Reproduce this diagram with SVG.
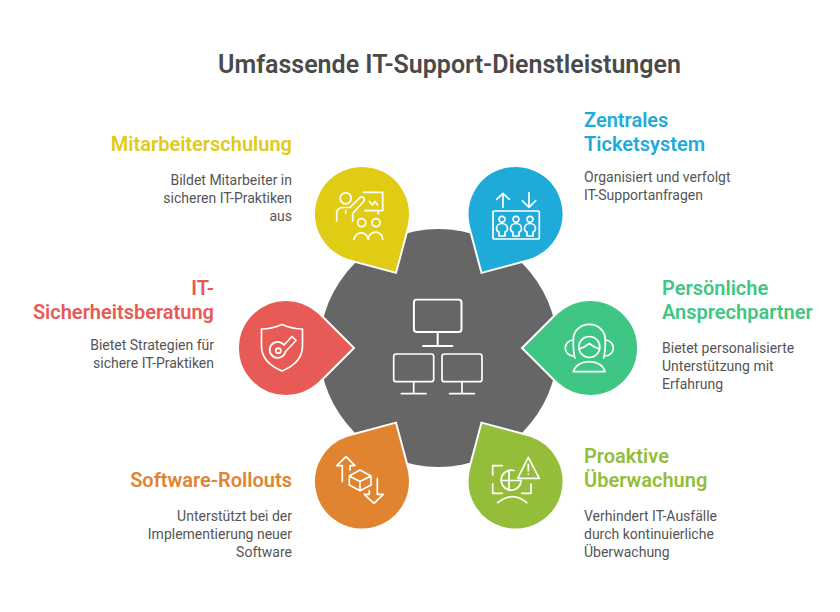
<svg xmlns="http://www.w3.org/2000/svg" xmlns:xlink="http://www.w3.org/1999/xlink" width="840" height="612" viewBox="0 0 840 612">
<style>
text{font-family:Roboto,"Liberation Sans",sans-serif}
.title{font-size:25px;font-weight:600;fill:#4a4a4a}
.h{font-size:20px;font-weight:600}
.b{font-size:14px;fill:#555555}
.e{text-anchor:end}
.ic{fill:none;stroke:#fff;stroke-width:1.7;stroke-linecap:round;stroke-linejoin:round}
.drop{stroke:#fff;stroke-width:2;stroke-linejoin:miter}
</style>
<defs>
<path id="drop" d="M0,-48 C-26.5,-48 -48,-26.5 -48,0 C-48,26.5 -26.5,48 0,48 C13,48 24,43 33,35 L68,0 L33,-35 C24,-43 13,-48 0,-48Z"/>
<g id="mon"><rect x="-20" y="-14" width="40" height="27.7" rx="2.5"/><path d="M0,13.7V25.7M-12.3,25.7H12.3"/></g>
<g id="pers"><circle cx="0" cy="-8.7" r="3"/><path d="M0,-4.5c-3,0 -5.5,2 -5.5,5 0,2 1,3 2.5,3.5V8H3V4c1.500,-.5 2.500,-1.500 2.500,-3.500 0,-3 -2.500,-5 -5.500,-5Z"/></g>
</defs>
<text class="title" x="218" y="73">Umfassende IT-Support-Dienstleistungen</text>
<g id="connectors"></g>
<g id="center">
<circle cx="438.500" cy="348" r="119" fill="#666666"/>
<g class="ic">
<use href="#mon" transform="translate(437.700,316) scale(1.190,1.170)"/>
<use href="#mon" x="413.700" y="368"/>
<use href="#mon" x="462" y="368"/>
</g>
</g>
<g id="n-mitarbeiterschulung">
<use href="#drop" class="drop" fill="#e0cb15" transform="translate(362,214) rotate(60)"/>
<g class="ic">
<circle cx="345.700" cy="198.300" r="5.500"/>
<path d="M336.700,221V213.500Q336.700,207.500 343,207.500H350L360,197.500Q362.500,196 364,198Q365,199.500 363.500,201.500L352.700,213.500V221"/>
<path d="M363.500,192.300H382.700V210.700H365M378.300,210.700V214M345.700,210.700V213.300"/>
<path d="M369.500,201.500L372.500,205L375,201.500L377.500,205"/>
<circle cx="361.700" cy="222.700" r="4"/><circle cx="376" cy="222.700" r="4"/>
<path d="M354,239.300A7.200,7.200 0 0 1 368.300,239.300A7.200,7.200 0 0 1 382.700,239.300"/>
</g>
<text class="h e" x="292" y="151" fill="#e0cb15">Mitarbeiterschulung</text>
<text class="b e" x="292" y="185">Bildet Mitarbeiter in</text>
<text class="b e" x="292" y="203">sicheren IT-Praktiken</text>
<text class="b e" x="292" y="221">aus</text>
</g>
<g id="n-zentrales-ticketsystem">
<use href="#drop" class="drop" fill="#1eabda" transform="translate(515.500,214) rotate(120)"/>
<g class="ic">
<path d="M503,207.300V193.300M496.700,199.300L503,193.300L509.300,199.300"/>
<path d="M529,192.700V207.300M522.300,200.700L529,207.300L535.700,200.700"/>
<rect x="493" y="211" width="46.300" height="28" rx="1"/>
<use href="#pers" x="502" y="228"/><use href="#pers" x="516" y="228"/><use href="#pers" x="530" y="228"/>
</g>
<text class="h" x="584" y="127" fill="#1eabda">Zentrales</text>
<text class="h" x="584" y="151" fill="#1eabda">Ticketsystem</text>
<text class="b" x="584" y="182">Organisiert und verfolgt</text>
<text class="b" x="584" y="200">IT-Supportanfragen</text>
</g>
<g id="n-sicherheitsberatung">
<use href="#drop" class="drop" fill="#e75a55" transform="translate(286,348)"/>
<g class="ic" stroke-width="1.500">
<path d="M282,324.500C275,327.500 268,329 261.500,329V346C261.500,358 270,366 282,371C294,366 302.500,358 302.500,346V329C296,329 289,327.500 282,324.500Z"/>
<path d="M284,345L292,336.500L296,340.500L285.500,351.500A8,8 0 1 1 284,345Z"/>
<circle cx="278.300" cy="350.700" r="2.500"/>
</g>
<text class="h e" x="214" y="295" fill="#e75a55">IT-</text>
<text class="h e" x="214" y="319" fill="#e75a55">Sicherheitsberatung</text>
<text class="b e" x="214" y="350">Bietet Strategien für</text>
<text class="b e" x="214" y="368">sichere IT-Praktiken</text>
</g>
<g id="n-ansprechpartner">
<use href="#drop" class="drop" fill="#3fc685" transform="translate(590,348) rotate(180)"/>
<g class="ic">
<path d="M575,358C573,352 573.300,345 573.300,340C573.300,331 580,324.300 589.300,324.300C598.600,324.300 605.300,331 605.300,340C605.300,345 605.500,352 603.600,358"/>
<circle cx="589.300" cy="347" r="10.500"/>
<path d="M579,349L584,347L589.300,343.500L594.500,347L599.600,349"/>
<path d="M573.300,340A8,8 0 0 0 573.300,356M605.300,340A8,8 0 0 1 605.300,356"/>
<path d="M573.300,371.700C575,365 582,361.700 589.300,361.700C596.600,361.700 603.500,365 605,371.700Z"/>
</g>
<text class="h" x="662" y="295" fill="#3fc685">Persönliche</text>
<text class="h" x="662" y="319" fill="#3fc685">Ansprechpartner</text>
<text class="b" x="662" y="353">Bietet personalisierte</text>
<text class="b" x="662" y="371">Unterstützung mit</text>
<text class="b" x="662" y="389">Erfahrung</text>
</g>
<g id="n-software-rollouts">
<use href="#drop" class="drop" fill="#e08430" transform="translate(362,481.500) rotate(-60)"/>
<g class="ic">
<path d="M342.300,481.700V465.700H336.700L346,456.700L355,465.700H350V470"/>
<path d="M377.300,478.300V494.300H383.300L374,503.300L364.300,494.300H369.300V490.700"/>
<path d="M360,470L371,476V485L360,490.700L349.300,485V476ZM349.300,476L360,481.500L371,476M360,481.500V490.700"/>
</g>
<text class="h e" x="292" y="487" fill="#e08430">Software-Rollouts</text>
<text class="b e" x="292" y="521">Unterstützt bei der</text>
<text class="b e" x="292" y="539">Implementierung neuer</text>
<text class="b e" x="292" y="557">Software</text>
</g>
<g id="n-proaktive-ueberwachung">
<use href="#drop" class="drop" fill="#94bd3a" transform="translate(515.500,481.500) rotate(-120)"/>
<g class="ic" stroke-width="1.500">
<path d="M492.700,475V465.700H502.300M492.700,484V493.300H502.300M531,484V493.300H521.700"/>
<path d="M514,470.500A10,10 0 1 0 521,482M501,480.500H521M509,470.500V490.500"/>
<path d="M528.300,457.300L539.300,478.300H517.700Z"/>
<path d="M528.300,464.300V470.700M528.300,474V474.100"/>
<path d="M497.700,502.700Q512.300,490.700 526.700,502.700"/>
</g>
<text class="h" x="584" y="463" fill="#94bd3a">Proaktive</text>
<text class="h" x="584" y="487" fill="#94bd3a">Überwachung</text>
<text class="b" x="584" y="521">Verhindert IT-Ausfälle</text>
<text class="b" x="584" y="539">durch kontinuierliche</text>
<text class="b" x="584" y="557">Überwachung</text>
</g>
</svg>
